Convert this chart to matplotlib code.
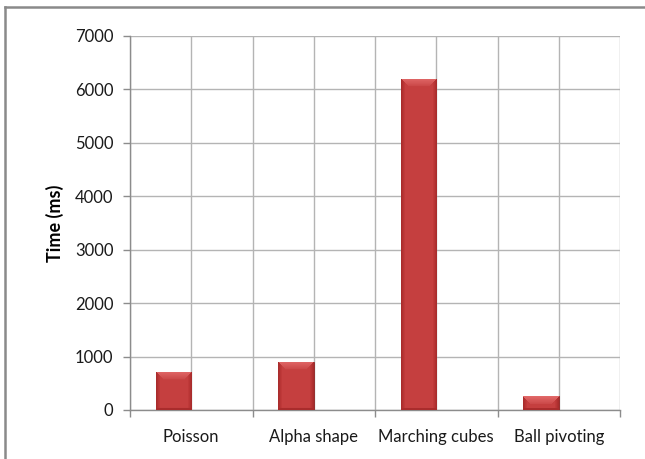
import numpy as np
import matplotlib
matplotlib.use("Agg")
import matplotlib.pyplot as plt
from matplotlib.colors import LinearSegmentedColormap
from matplotlib.lines import Line2D

# reconstruction timings per method
methods = ["Poisson", "Alpha shape", "Marching cubes", "Ball pivoting"]
times_ms = [720, 900, 6200, 260]

plt.rcParams["font.family"] = ["Lato", "DejaVu Sans"]

fig = plt.figure(figsize=(6.45, 4.59), dpi=100)
ax = fig.add_axes([130 / 645, 1 - 410 / 459, 490 / 645, 374 / 459])

x = np.arange(len(methods))
bar_w = 0.29
bars = ax.bar(x - bar_w / 2, times_ms, width=bar_w, color="#bf3636",
              edgecolor="#8e2323", linewidth=0.6, zorder=3)

ax.set_xlim(-0.5, len(methods) - 0.5)
ax.set_ylim(0, 7000)
ax.set_yticks(np.arange(0, 7001, 1000))

# category boundaries get tick marks, centers carry the labels
ax.set_xticks(np.arange(-0.5, len(methods)))
ax.set_xticklabels([])
ax.set_xticks(x, minor=True)
ax.set_xticklabels(methods, minor=True)
ax.tick_params(axis="x", which="major", length=5, color="#8c8c8c", width=1)
ax.tick_params(axis="x", which="minor", length=0, pad=14, labelsize=12,
               labelcolor="#1a1a1a")
ax.tick_params(axis="y", length=5, color="#8c8c8c", width=1, pad=7,
               labelsize=12, labelcolor="#1a1a1a")

ax.grid(True, which="both", axis="x", color="#b4b4b4", linewidth=1, zorder=0)
ax.grid(True, which="major", axis="y", color="#b4b4b4", linewidth=1, zorder=0)
for side in ["top", "right"]:
    ax.spines[side].set_visible(False)
for side in ["left", "bottom"]:
    ax.spines[side].set_color("#8c8c8c")
    ax.spines[side].set_linewidth(1)

ax.set_ylabel("Time (ms)", fontsize=13, fontweight="bold", labelpad=8)

# shaded bevel on each bar
fig.canvas.draw()
cmap = LinearSegmentedColormap.from_list(
    "bevel", ["#7e1c1c", "#a82c2c", "#c13a3a", "#e87272"])
for rect in bars:
    x0, y0 = rect.get_x(), rect.get_y()
    w, h = rect.get_width(), rect.get_height()
    p0 = ax.transData.transform((x0, y0))
    p1 = ax.transData.transform((x0 + w, y0 + h))
    npx_w = max(int(round(p1[0] - p0[0])), 2)
    npx_h = max(int(round(p1[1] - p0[1])), 2)
    cols = np.arange(npx_w) + 0.5
    rows = np.arange(npx_h) + 0.5  # counted from the top
    cx = np.minimum(cols, npx_w - cols)
    shade = 0.3 + 0.4 * np.clip(cx / 4.0, 0, 1)
    img = np.tile(shade, (npx_h, 1))
    top = rows[:, None]
    bevel = (top < 8) & (top < cx[None, :] + 0.5)
    img = np.where(bevel, 0.95 - 0.025 * top, img)
    img = np.where(rows[:, None] > npx_h - 2, 0.35, img)
    im = ax.imshow(img, cmap=cmap, vmin=0, vmax=1, aspect="auto",
                   extent=(x0, x0 + w, y0, y0 + h), origin="upper",
                   interpolation="bilinear", zorder=4)
    im.set_clip_path(rect)
ax.set_xlim(-0.5, len(methods) - 0.5)
ax.set_ylim(0, 7000)

# chart frame
fig.add_artist(Line2D([5 / 645, 1.0], [1 - 6.5 / 459, 1 - 6.5 / 459],
                      transform=fig.transFigure, color="#8a8a8a", linewidth=1.8))
fig.add_artist(Line2D([5 / 645, 5 / 645], [0.0, 1 - 6.5 / 459],
                      transform=fig.transFigure, color="#8a8a8a", linewidth=1.8))

fig.savefig("out.png", dpi=100)
